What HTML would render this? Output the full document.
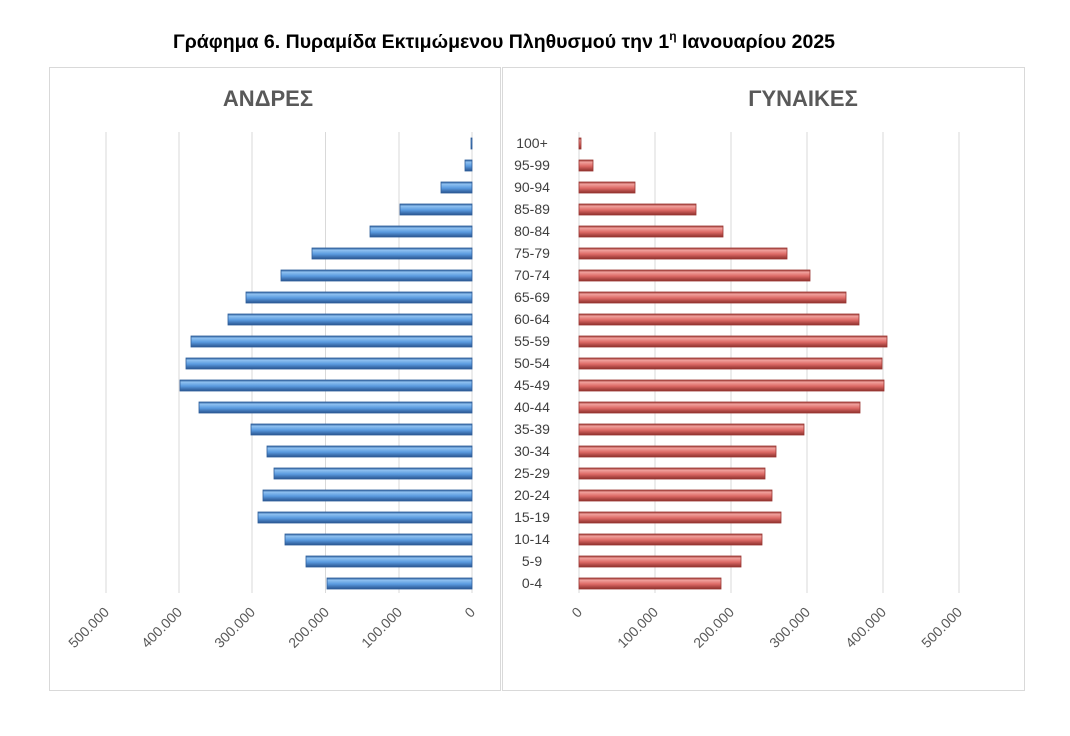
<!DOCTYPE html>
<html><head><meta charset="utf-8"><style>
body{margin:0;background:#fff;}
svg{display:block;font-family:"Liberation Sans","DejaVu Sans",sans-serif;}
</style></head><body>
<svg width="1070" height="736" viewBox="0 0 1070 736" xmlns="http://www.w3.org/2000/svg">
<defs>
<linearGradient id="gb" x1="0" y1="0" x2="0" y2="1">
<stop offset="0" stop-color="#2d5d9a"/><stop offset="0.2" stop-color="#8ec0f0"/><stop offset="0.55" stop-color="#5a9be0"/><stop offset="1" stop-color="#2a5590"/></linearGradient>
<linearGradient id="gr" x1="0" y1="0" x2="0" y2="1">
<stop offset="0" stop-color="#9a3632"/><stop offset="0.2" stop-color="#f0a09c"/><stop offset="0.55" stop-color="#de6a66"/><stop offset="1" stop-color="#8e302d"/></linearGradient>
</defs>
<text x="504" y="48" text-anchor="middle" font-size="19.5" font-weight="bold" fill="#000">Γράφημα 6. Πυραμίδα Εκτιμώμενου Πληθυσμού την 1<tspan font-size="12" dy="-8">η</tspan><tspan dy="8"> Ιανουαρίου 2025</tspan></text>
<rect x="49.5" y="67.5" width="451" height="623" fill="#fff" stroke="#d9d9d9"/>
<rect x="502.5" y="67.5" width="522" height="623" fill="#fff" stroke="#d9d9d9"/>
<text x="268" y="106" text-anchor="middle" font-size="22" font-weight="bold" fill="#595959">ΑΝΔΡΕΣ</text>
<text x="803" y="106" text-anchor="middle" font-size="22" font-weight="bold" fill="#595959">ΓΥΝΑΙΚΕΣ</text>
<g stroke="#d9d9d9" stroke-width="1">
<line x1="106" y1="132" x2="106" y2="593"/><line x1="179" y1="132" x2="179" y2="593"/><line x1="252" y1="132" x2="252" y2="593"/><line x1="325.5" y1="132" x2="325.5" y2="593"/><line x1="399" y1="132" x2="399" y2="593"/><line x1="472" y1="132" x2="472" y2="593"/>
<line x1="579" y1="132" x2="579" y2="593"/><line x1="655" y1="132" x2="655" y2="593"/><line x1="731" y1="132" x2="731" y2="593"/><line x1="807" y1="132" x2="807" y2="593"/><line x1="883" y1="132" x2="883" y2="593"/><line x1="959" y1="132" x2="959" y2="593"/>
</g>
<g font-size="14" fill="#595959" text-anchor="end">
<text transform="translate(476,613) rotate(-45)">0</text>
<text transform="translate(403,613) rotate(-45)">100.000</text>
<text transform="translate(330,613) rotate(-45)">200.000</text>
<text transform="translate(256,613) rotate(-45)">300.000</text>
<text transform="translate(183,613) rotate(-45)">400.000</text>
<text transform="translate(110,613) rotate(-45)">500.000</text>
<text transform="translate(583,613) rotate(-45)">0</text>
<text transform="translate(659,613) rotate(-45)">100.000</text>
<text transform="translate(735,613) rotate(-45)">200.000</text>
<text transform="translate(811,613) rotate(-45)">300.000</text>
<text transform="translate(887,613) rotate(-45)">400.000</text>
<text transform="translate(963,613) rotate(-45)">500.000</text>
</g>
<g font-size="14" fill="#404040" text-anchor="middle">
<text x="532" y="148">100+</text><text x="532" y="170">95-99</text><text x="532" y="192">90-94</text><text x="532" y="214">85-89</text><text x="532" y="236">80-84</text><text x="532" y="258">75-79</text><text x="532" y="280">70-74</text><text x="532" y="302">65-69</text><text x="532" y="324">60-64</text><text x="532" y="346">55-59</text><text x="532" y="368">50-54</text><text x="532" y="390">45-49</text><text x="532" y="412">40-44</text><text x="532" y="434">35-39</text><text x="532" y="456">30-34</text><text x="532" y="478">25-29</text><text x="532" y="500">20-24</text><text x="532" y="522">15-19</text><text x="532" y="544">10-14</text><text x="532" y="566">5-9</text><text x="532" y="588">0-4</text>
</g>
<g stroke-width="0.8">
<rect x="471" y="138" width="1" height="11" fill="url(#gb)" stroke="#2d5d9a"/>
<rect x="465" y="160" width="7" height="11" fill="url(#gb)" stroke="#2d5d9a"/>
<rect x="441" y="182" width="31" height="11" fill="url(#gb)" stroke="#2d5d9a"/>
<rect x="400" y="204" width="72" height="11" fill="url(#gb)" stroke="#2d5d9a"/>
<rect x="370" y="226" width="102" height="11" fill="url(#gb)" stroke="#2d5d9a"/>
<rect x="312" y="248" width="160" height="11" fill="url(#gb)" stroke="#2d5d9a"/>
<rect x="281" y="270" width="191" height="11" fill="url(#gb)" stroke="#2d5d9a"/>
<rect x="246" y="292" width="226" height="11" fill="url(#gb)" stroke="#2d5d9a"/>
<rect x="228" y="314" width="244" height="11" fill="url(#gb)" stroke="#2d5d9a"/>
<rect x="191" y="336" width="281" height="11" fill="url(#gb)" stroke="#2d5d9a"/>
<rect x="186" y="358" width="286" height="11" fill="url(#gb)" stroke="#2d5d9a"/>
<rect x="180" y="380" width="292" height="11" fill="url(#gb)" stroke="#2d5d9a"/>
<rect x="199" y="402" width="273" height="11" fill="url(#gb)" stroke="#2d5d9a"/>
<rect x="251" y="424" width="221" height="11" fill="url(#gb)" stroke="#2d5d9a"/>
<rect x="267" y="446" width="205" height="11" fill="url(#gb)" stroke="#2d5d9a"/>
<rect x="274" y="468" width="198" height="11" fill="url(#gb)" stroke="#2d5d9a"/>
<rect x="263" y="490" width="209" height="11" fill="url(#gb)" stroke="#2d5d9a"/>
<rect x="258" y="512" width="214" height="11" fill="url(#gb)" stroke="#2d5d9a"/>
<rect x="285" y="534" width="187" height="11" fill="url(#gb)" stroke="#2d5d9a"/>
<rect x="306" y="556" width="166" height="11" fill="url(#gb)" stroke="#2d5d9a"/>
<rect x="327" y="578" width="145" height="11" fill="url(#gb)" stroke="#2d5d9a"/>
</g>
<g stroke-width="0.8">
<rect x="579" y="138" width="2" height="11" fill="url(#gr)" stroke="#9a3632"/>
<rect x="579" y="160" width="14" height="11" fill="url(#gr)" stroke="#9a3632"/>
<rect x="579" y="182" width="56" height="11" fill="url(#gr)" stroke="#9a3632"/>
<rect x="579" y="204" width="117" height="11" fill="url(#gr)" stroke="#9a3632"/>
<rect x="579" y="226" width="144" height="11" fill="url(#gr)" stroke="#9a3632"/>
<rect x="579" y="248" width="208" height="11" fill="url(#gr)" stroke="#9a3632"/>
<rect x="579" y="270" width="231" height="11" fill="url(#gr)" stroke="#9a3632"/>
<rect x="579" y="292" width="267" height="11" fill="url(#gr)" stroke="#9a3632"/>
<rect x="579" y="314" width="280" height="11" fill="url(#gr)" stroke="#9a3632"/>
<rect x="579" y="336" width="308" height="11" fill="url(#gr)" stroke="#9a3632"/>
<rect x="579" y="358" width="303" height="11" fill="url(#gr)" stroke="#9a3632"/>
<rect x="579" y="380" width="305" height="11" fill="url(#gr)" stroke="#9a3632"/>
<rect x="579" y="402" width="281" height="11" fill="url(#gr)" stroke="#9a3632"/>
<rect x="579" y="424" width="225" height="11" fill="url(#gr)" stroke="#9a3632"/>
<rect x="579" y="446" width="197" height="11" fill="url(#gr)" stroke="#9a3632"/>
<rect x="579" y="468" width="186" height="11" fill="url(#gr)" stroke="#9a3632"/>
<rect x="579" y="490" width="193" height="11" fill="url(#gr)" stroke="#9a3632"/>
<rect x="579" y="512" width="202" height="11" fill="url(#gr)" stroke="#9a3632"/>
<rect x="579" y="534" width="183" height="11" fill="url(#gr)" stroke="#9a3632"/>
<rect x="579" y="556" width="162" height="11" fill="url(#gr)" stroke="#9a3632"/>
<rect x="579" y="578" width="142" height="11" fill="url(#gr)" stroke="#9a3632"/>
</g>
</svg>
</body></html>
